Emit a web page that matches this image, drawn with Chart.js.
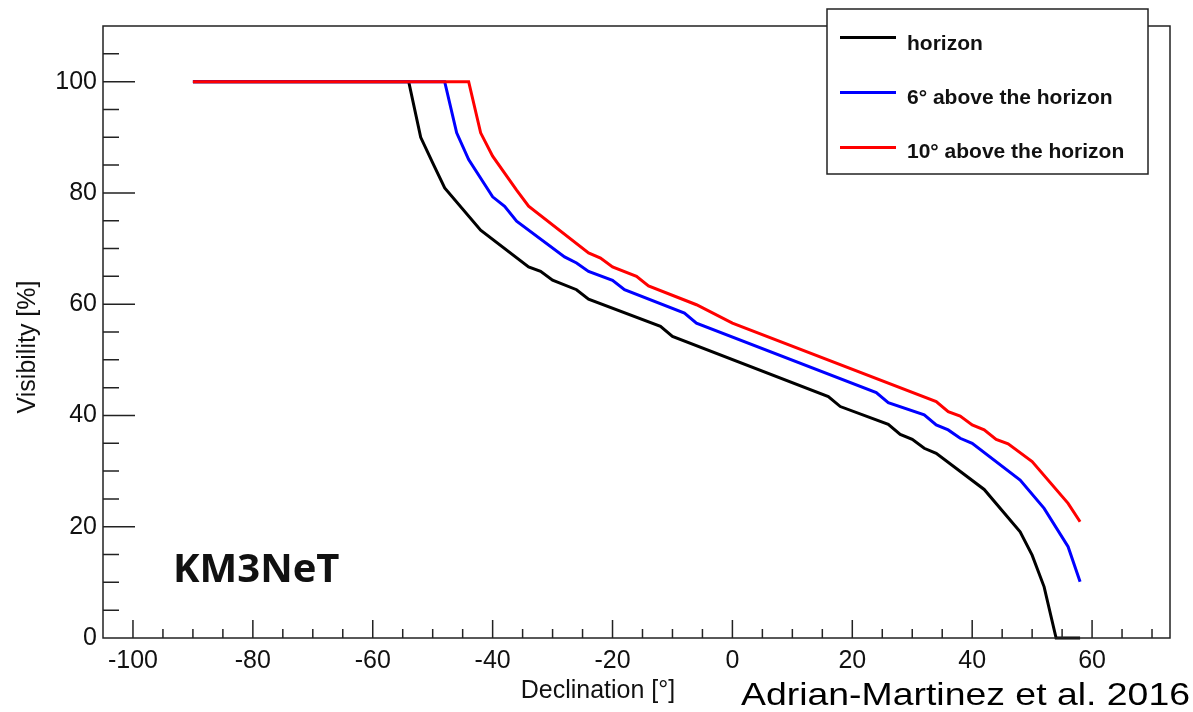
<!DOCTYPE html>
<html>
<head>
<meta charset="utf-8">
<script src="https://cdn.jsdelivr.net/npm/chart.js@4.4.0/dist/chart.umd.min.js"></script>
<style>
  html, body { margin: 0; padding: 0; background: #fff; }
  #wrap { width: 1193px; height: 712px; position: relative; }
</style>
</head>
<body>
<div id="wrap"><canvas id="visibilityChart"></canvas></div>
<script>
// declination [deg] and visibility [%]
const horizonDec = [-90, -54, -52, -50, -48, -42, -34, -32, -30, -26, -24, -12, -10, 16, 18, 26, 28, 30, 32, 34, 42, 48, 50, 52, 54, 58];
const horizonVis = [100, 100, 90.0, 85.4, 80.9, 73.3, 66.7, 65.9, 64.3, 62.6, 60.9, 56.0, 54.2, 43.4, 41.6, 38.4, 36.6, 35.7, 34.1, 33.2, 26.7, 19.1, 14.9, 9.2, 0, 0];

const sixDec = [-90, -48, -46, -44, -40, -38, -36, -28, -26, -24, -20, -18, -8, -6, 24, 26, 32, 34, 36, 38, 40, 48, 52, 56, 58];
const sixVis = [100, 100, 90.8, 86.0, 79.3, 77.6, 74.9, 68.5, 67.4, 65.9, 64.3, 62.6, 58.4, 56.6, 44.1, 42.3, 40.1, 38.3, 37.4, 35.9, 35.0, 28.4, 23.3, 16.4, 10.1];

const tenDec = [-90, -44, -42, -40, -36, -34, -24, -22, -20, -16, -14, -6, 0, 34, 36, 38, 40, 42, 44, 46, 50, 56, 58];
const tenVis = [100, 100, 90.8, 86.6, 80.5, 77.6, 69.2, 68.3, 66.7, 65.0, 63.3, 59.9, 56.6, 42.5, 40.7, 39.9, 38.3, 37.4, 35.7, 34.9, 31.7, 24.2, 20.9];

const seriesLabels = ['horizon', '6° above the horizon', '10° above the horizon'];
const xTickVals = [-100, -80, -60, -40, -20, 0, 20, 40, 60];
const yTickVals = [0, 20, 40, 60, 80, 100];

const toPoints = (xs, ys) => xs.map((x, i) => ({ x: x, y: ys[i] }));

const FONT = '"Liberation Sans", Arial, Helvetica, sans-serif';

// ROOT style: ticks pointing inwards, frame, legend box and the labels
const rootStyle = {
  id: 'rootStyle',
  afterDraw(chart) {
    const ctx = chart.ctx;
    const a = chart.chartArea;
    const xs = chart.scales.x, ys = chart.scales.y;
    ctx.save();
    ctx.strokeStyle = '#222';
    ctx.lineWidth = 1.5;

    ctx.beginPath();
    for (let v = -100; v <= 70; v += 5) {
      const px = xs.getPixelForValue(v);
      const len = v % 20 === 0 ? 18 : 9;
      ctx.moveTo(px, a.bottom);
      ctx.lineTo(px, a.bottom - len);
    }
    for (let v = 5; v <= 105; v += 5) {
      const py = ys.getPixelForValue(v);
      const len = v % 20 === 0 ? 32 : 16;
      ctx.moveTo(a.left, py);
      ctx.lineTo(a.left + len, py);
    }
    ctx.stroke();
    ctx.strokeRect(a.left, a.top, a.right - a.left, a.bottom - a.top);

    // axis titles
    ctx.fillStyle = '#111';
    ctx.font = '25px ' + FONT;
    ctx.textAlign = 'center';
    ctx.textBaseline = 'middle';
    ctx.fillText('Declination [°]', 598, 691);
    ctx.save();
    ctx.translate(28, 347);
    ctx.rotate(-Math.PI / 2);
    ctx.fillText('Visibility [%]', 0, 0);
    ctx.restore();

    // legend box
    const lx = 827, ly = 9, lw = 321, lh = 165;
    ctx.fillStyle = '#fff';
    ctx.fillRect(lx, ly, lw, lh);
    ctx.strokeStyle = '#222';
    ctx.lineWidth = 1.5;
    ctx.strokeRect(lx, ly, lw, lh);
    ctx.font = 'bold 21px ' + FONT;
    ctx.textAlign = 'left';
    ctx.textBaseline = 'alphabetic';
    chart.data.datasets.forEach((ds, i) => {
      const yy = 37.5 + i * 55;
      ctx.strokeStyle = ds.borderColor;
      ctx.lineWidth = 3;
      ctx.beginPath();
      ctx.moveTo(840, yy);
      ctx.lineTo(896, yy);
      ctx.stroke();
      ctx.fillStyle = '#111';
      ctx.fillText(ds.label, 907, 50 + i * 54.2);
    });

    // experiment tag and reference
    ctx.fillStyle = '#111';
    ctx.font = 'bold 40px "Open Sans", "Noto Sans", sans-serif';
    ctx.fillText('KM3NeT', 173, 582);

    ctx.font = '32px ' + FONT;
    const ref = 'Adrian-Martinez et al. 2016';
    const w = ctx.measureText(ref).width;
    ctx.save();
    ctx.translate(741, 705);
    ctx.scale(449 / w, 1);
    ctx.fillStyle = '#000';
    ctx.fillText(ref, 0, 0);
    ctx.restore();

    ctx.restore();
  }
};

const ctx = document.getElementById('visibilityChart').getContext('2d');

const config = {
  type: 'scatter',
  data: {
    datasets: [
      { label: seriesLabels[0], data: toPoints(horizonDec, horizonVis), borderColor: '#000000', order: 3 },
      { label: seriesLabels[1], data: toPoints(sixDec, sixVis), borderColor: '#0000ff', order: 2 },
      { label: seriesLabels[2], data: toPoints(tenDec, tenVis), borderColor: '#ff0000', order: 1 }
    ]
  },
  options: {
    responsive: true,
    maintainAspectRatio: false,
    animation: false,
    showLine: true,
    clip: false,
    elements: {
      point: { radius: 0, hoverRadius: 0 },
      line: { borderWidth: 3, tension: 0, fill: false }
    },
    layout: { padding: { top: 26, right: 23, left: 0, bottom: 0 } },
    plugins: {
      legend: { display: false },
      tooltip: { enabled: false }
    },
    scales: {
      x: {
        type: 'linear',
        min: -105,
        max: 73,
        afterBuildTicks: (scale) => { scale.ticks = xTickVals.map(v => ({ value: v })); },
        afterFit: (scale) => { scale.height = 74; },
        grid: { display: false, drawTicks: false },
        border: { display: false },
        ticks: { padding: 8, color: '#111', font: { family: FONT, size: 25 }, maxRotation: 0, autoSkip: false }
      },
      y: {
        type: 'linear',
        min: 0,
        max: 110,
        afterBuildTicks: (scale) => { scale.ticks = yTickVals.map(v => ({ value: v })); },
        afterFit: (scale) => { scale.width = 103; },
        grid: { display: false, drawTicks: false },
        border: { display: false },
        ticks: { padding: 6, color: '#111', font: { family: FONT, size: 25 }, autoSkip: false }
      }
    }
  },
  plugins: [rootStyle]
};

const visibilityChart = new Chart(ctx, config);
</script>
</body>
</html>
